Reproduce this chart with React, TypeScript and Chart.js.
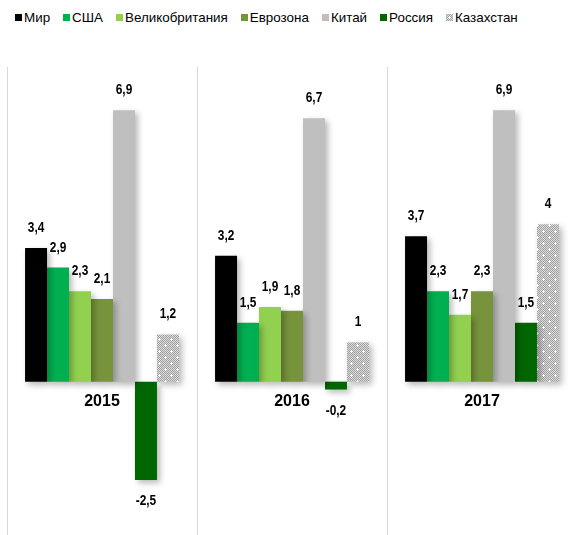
import React, { useEffect, useRef, useMemo } from "react";
import { Chart, registerables } from "chart.js";

Chart.register(...registerables);

const categories = ["2015", "2016", "2017"];
const seriesNames = ["Мир", "США", "Великобритания", "Еврозона", "Китай", "Россия", "Казахстан"];
const world = [3.4, 3.2, 3.7];
const usa = [2.9, 1.5, 2.3];
const uk = [2.3, 1.9, 1.7];
const eurozone = [2.1, 1.8, 2.3];
const china = [6.9, 6.7, 6.9];
const russia = [-2.5, -0.2, 1.5];
const kazakhstan = [1.2, 1, 4];
const seriesValues = [world, usa, uk, eurozone, china, russia, kazakhstan];
const seriesColors = ["#000000", "#00B050", "#92D050", "#77933C", "#BFBFBF", "#006600", "pattern"];

function makeTile(): HTMLCanvasElement {
  const c = document.createElement("canvas");
  c.width = 12;
  c.height = 12;
  const g = c.getContext("2d") as CanvasRenderingContext2D;
  for (let y = 0; y < 12; y++) {
    for (let x = 0; x < 12; x++) {
      g.fillStyle = (x + y) % 2 ? "#dcdcdc" : "#a0a0a0";
      g.fillRect(x, y, 1, 1);
    }
  }
  const spark = (cx: number, cy: number) => {
    g.fillStyle = "#ffffff";
    g.fillRect(cx - 1, cy, 3, 1);
    g.fillRect(cx, cy - 1, 1, 3);
  };
  spark(3, 3);
  spark(9, 9);
  return c;
}

const shadowPlugin = {
  id: "barShadow",
  beforeDatasetsDraw(chart: any) {
    const ctx = chart.ctx;
    ctx.save();
    ctx.shadowColor = "rgba(0,0,0,0.28)";
    ctx.shadowBlur = 6;
    ctx.shadowOffsetX = 3;
    ctx.shadowOffsetY = 3;
  },
  afterDatasetsDraw(chart: any) {
    chart.ctx.restore();
  },
};

const labelPlugin = {
  id: "valueLabels",
  afterDraw(chart: any) {
    const ctx = chart.ctx;
    const sx = 0.82;
    chart.data.datasets.forEach((ds: any, i: number) => {
      const meta = chart.getDatasetMeta(i);
      meta.data.forEach((bar: any, j: number) => {
        const v = ds.data[j];
        const y = v >= 0 ? bar.y - 20 : bar.y + 21;
        ctx.save();
        ctx.font = "bold 14.5px 'Liberation Sans', Arial, sans-serif";
        ctx.fillStyle = "#000000";
        ctx.textAlign = "center";
        ctx.textBaseline = "middle";
        ctx.translate(bar.x, y);
        ctx.scale(sx, 1);
        ctx.fillText(String(v).replace(".", ","), 0, 0);
        ctx.restore();
      });
    });
  },
};

export default function App() {
  const canvasRef = useRef<HTMLCanvasElement | null>(null);
  const tileUrl = useMemo(() => makeTile().toDataURL(), []);

  useEffect(() => {
    const canvas = canvasRef.current;
    if (!canvas) return;
    const ctx = canvas.getContext("2d") as CanvasRenderingContext2D;
    const pattern = ctx.createPattern(makeTile(), "repeat");
    const chart = new Chart(canvas, {
      type: "bar",
      data: {
        labels: categories,
        datasets: seriesNames.map((name, i) => ({
          label: name,
          data: seriesValues[i],
          backgroundColor: seriesColors[i] === "pattern" ? pattern : seriesColors[i],
          borderWidth: 0,
          barPercentage: 1,
          categoryPercentage: 0.81,
        })),
      },
      options: {
        responsive: false,
        animation: false,
        layout: { padding: { top: 67, left: 7, right: 9, bottom: 6 } },
        plugins: {
          legend: { display: false },
          tooltip: { enabled: false },
        },
        scales: {
          x: {
            position: { y: 0 } as any,
            grid: { offset: true, color: "#d9d9d9", lineWidth: 1, drawTicks: false },
            border: { display: false },
            ticks: {
              color: "#000000",
              padding: 10,
              font: { family: "'Liberation Sans', Arial, sans-serif", size: 16, weight: "bold" },
            },
          },
          y: {
            display: false,
            min: -4,
            max: 8,
          },
        },
      },
      plugins: [shadowPlugin, labelPlugin],
    });
    return () => chart.destroy();
  }, []);

  return (
    <div style={{ position: "fixed", left: 0, top: 0, width: 570, height: 535, overflow: "hidden", background: "#ffffff" }}>
      <div
        style={{
          position: "absolute",
          left: 15,
          top: 9,
          display: "flex",
          alignItems: "center",
          fontFamily: "'Liberation Sans', Arial, sans-serif",
          fontSize: 13.4,
          lineHeight: "17px",
          color: "#000000",
          whiteSpace: "nowrap",
        }}
      >
        {seriesNames.map((name, i) => (
          <div key={name} style={{ display: "flex", alignItems: "center", marginRight: 13 }}>
            <span
              style={{
                display: "inline-block",
                width: 7,
                height: 7,
                marginRight: 2,
                background: seriesColors[i] === "pattern" ? `url(${tileUrl})` : seriesColors[i],
              }}
            />
            <span>{name}</span>
          </div>
        ))}
      </div>
      <canvas ref={canvasRef} width={586} height={545} style={{ position: "absolute", left: 0, top: 0 }} />
    </div>
  );
}
